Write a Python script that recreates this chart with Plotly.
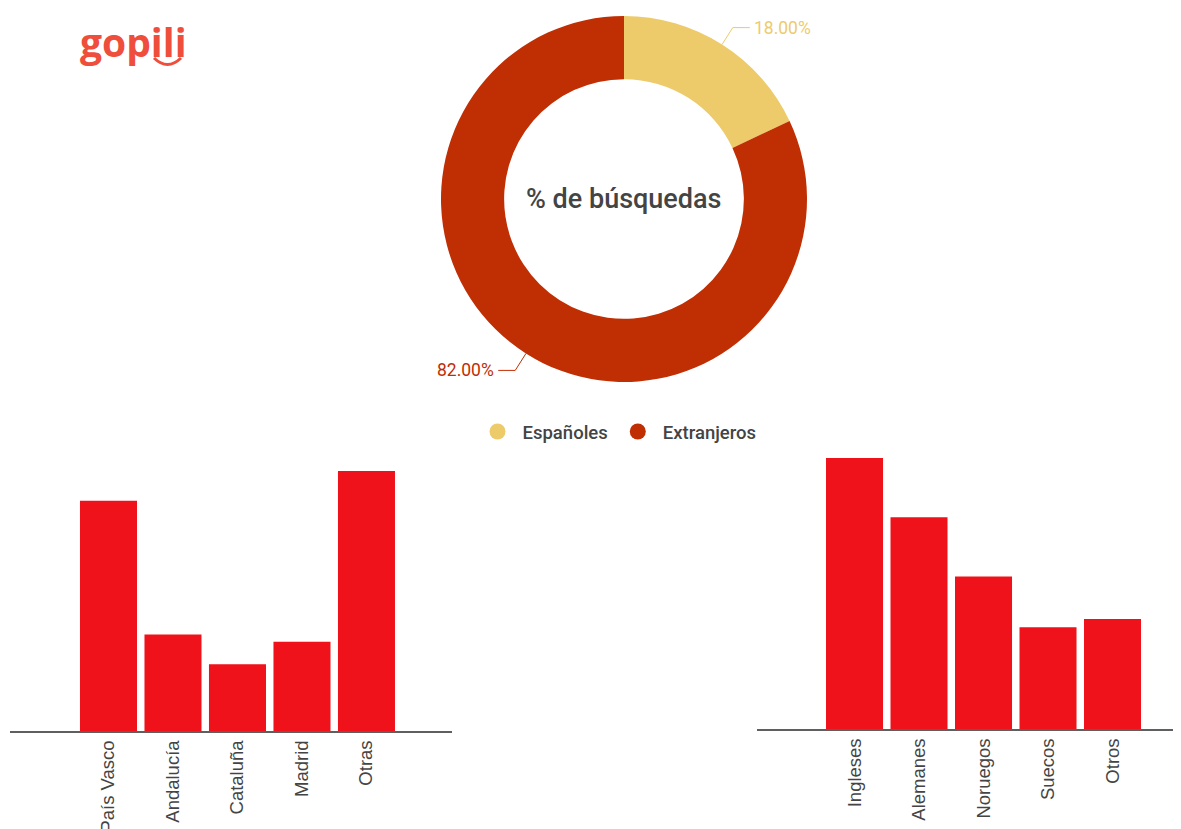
import math
import plotly.graph_objects as go

# ---------------- data ----------------
pie_labels = ["Españoles", "Extranjeros"]
pie_values = [18, 82]
pie_colors = ["#EDCB6B", "#C02E04"]

regions = ["País Vasco", "Andalucía", "Cataluña", "Madrid", "Otras"]
region_values = [31, 13, 9, 12, 35]

nationalities = ["Ingleses", "Alemanes", "Noruegos", "Suecos", "Otros"]
nationality_values = [32, 25, 18, 12, 13]

center_title = "% de búsquedas"
logo_text = "gopili"

# ---------------- layout geometry (window pixels) ----------------
OFF = 8                      # page body margin
W, H = 1181 - OFF, 829 - OFF
PIE_CX, PIE_CY, PIE_R = 624, 199, 183
BAR_COLOR = "#EF121A"
TEXT_GREY = "#444444"


def px(x):
    return (x - OFF) / W


def py(y):
    return 1 - (y - OFF) / H


fig = go.Figure()

# donut
fig.add_trace(go.Pie(
    labels=pie_labels, values=pie_values,
    marker=dict(colors=pie_colors, line=dict(width=0)),
    hole=0.655, sort=False, direction="clockwise", rotation=0,
    textinfo="none", hoverinfo="label+percent", showlegend=False,
    domain=dict(x=[px(PIE_CX - PIE_R), px(PIE_CX + PIE_R)],
                y=[py(PIE_CY + PIE_R), py(PIE_CY - PIE_R)]),
))

# legend entries (circles)
for name, col in zip(pie_labels, pie_colors):
    fig.add_trace(go.Scatter(
        x=[None], y=[None], mode="markers", name=name,
        marker=dict(symbol="circle", size=22, color=col),
        xaxis="x3", yaxis="y3", showlegend=True,
    ))

# left bar chart
fig.add_trace(go.Bar(
    x=regions, y=region_values, marker=dict(color=BAR_COLOR, line=dict(width=0)),
    xaxis="x", yaxis="y", showlegend=False, hoverinfo="x+y",
))
# right bar chart
fig.add_trace(go.Bar(
    x=nationalities, y=nationality_values, marker=dict(color=BAR_COLOR, line=dict(width=0)),
    xaxis="x2", yaxis="y2", showlegend=False, hoverinfo="x+y",
))

# ---------------- pie labels with leader lines ----------------
shapes = []
annotations = []
total = sum(pie_values)
cum = 0
for val, col in zip(pie_values, pie_colors):
    mid = (cum + val / 2) / total * 2 * math.pi
    cum += val
    s, c = math.sin(mid), math.cos(mid)
    p0 = (PIE_CX + PIE_R * s, PIE_CY - PIE_R * c)
    p1 = (PIE_CX + (PIE_R + 20) * s, PIE_CY - (PIE_R + 20) * c)
    side = 1 if s >= 0 else -1
    p2 = (p1[0] + side * 17, p1[1])
    shapes.append(dict(
        type="path", xref="paper", yref="paper",
        path=f"M {px(p0[0])},{py(p0[1])} L {px(p1[0])},{py(p1[1])} L {px(p2[0])},{py(p2[1])}",
        line=dict(color=col, width=1),
    ))
    annotations.append(dict(
        x=px(p2[0] + side * 2), y=py(p2[1]), xref="paper", yref="paper",
        text=f"{val / total * 100:.2f}%", showarrow=False,
        xanchor="left" if side > 0 else "right", yanchor="middle",
        font=dict(family="Roboto", size=17.5, color=col),
    ))

# centre title
annotations.append(dict(
    x=px(PIE_CX), y=py(PIE_CY), xref="paper", yref="paper",
    text=center_title, showarrow=False, xanchor="center", yanchor="middle",
    font=dict(family="Roboto", size=27, color=TEXT_GREY, weight=500),
))

# logo
annotations.append(dict(
    x=px(78), y=py(41), xref="paper", yref="paper",
    text=logo_text, showarrow=False, xanchor="left", yanchor="middle",
    font=dict(family="Open Sans", size=39, color="#EE4E3B", weight="bold"),
))
shapes.append(dict(
    type="path", xref="paper", yref="paper",
    path=f"M {px(154)},{py(58)} Q {px(167.5)},{py(71)} {px(181)},{py(58)}",
    line=dict(color="#EE4E3B", width=3),
))

axis_common = dict(
    showline=True, linecolor="#5f5f5f", linewidth=2, ticks="",
    showgrid=False, zeroline=False, tickangle=-90,
    tickfont=dict(family="Liberation Sans, Arial", size=18.5, color=TEXT_GREY),
    automargin=False, fixedrange=True,
)
yaxis_common = dict(showticklabels=False, showgrid=False, zeroline=False,
                    showline=False, automargin=False, fixedrange=True)

fig.update_layout(
    width=W, height=H,
    margin=dict(l=0, r=0, t=0, b=0),
    paper_bgcolor="white", plot_bgcolor="white",
    bargap=0.116,
    xaxis=dict(domain=[px(10), px(452)], range=[-1.527, 5.326], anchor="y", **axis_common),
    yaxis=dict(domain=[py(731), py(455)], range=[0, 37.15], anchor="x", **yaxis_common),
    xaxis2=dict(domain=[px(757), 1.0], range=[-1.512, 5.062], anchor="y2", **axis_common),
    yaxis2=dict(domain=[py(729), py(455)], range=[0, 32.35], anchor="x2", **yaxis_common),
    xaxis3=dict(domain=[0, 0.01], visible=False, anchor="y3"),
    yaxis3=dict(domain=[0.99, 1], visible=False, anchor="x3"),
    legend=dict(
        orientation="h", x=px(617), y=py(432), xanchor="center", yanchor="middle",
        font=dict(family="Roboto", size=18.5, color=TEXT_GREY, weight=500),
        itemsizing="trace", itemwidth=40, bgcolor="rgba(0,0,0,0)",
    ),
    shapes=shapes,
    annotations=annotations,
)

fig.write_html("out.html")
